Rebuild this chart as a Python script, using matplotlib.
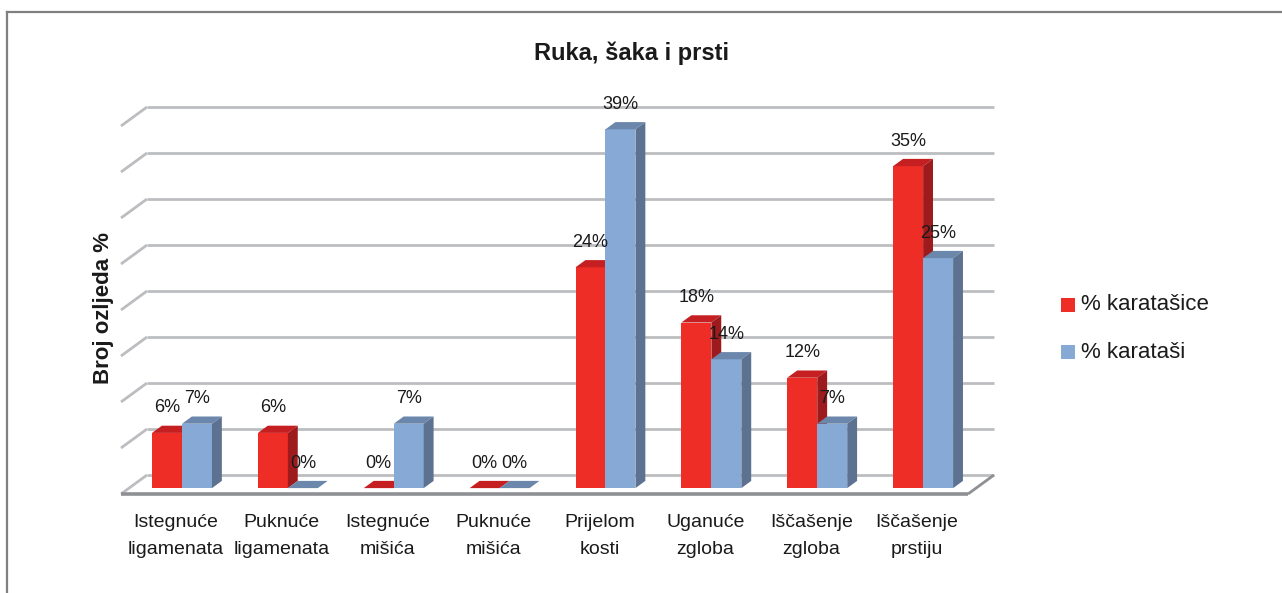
import matplotlib
matplotlib.use('Agg')
import matplotlib.pyplot as plt
from matplotlib import font_manager as fm
from matplotlib.patches import Polygon, Rectangle
from matplotlib.lines import Line2D
from matplotlib.transforms import ScaledTranslation, IdentityTransform

# data
categories = ['Istegnuće\nligamenata', 'Puknuće\nligamenata', 'Istegnuće\nmišića',
              'Puknuće\nmišića', 'Prijelom\nkosti', 'Uganuće\nzgloba',
              'Iščašenje\nzgloba', 'Iščašenje\nprstiju']
karatasice = [6, 6, 0, 0, 24, 18, 12, 35]
karatasi = [7, 0, 7, 0, 39, 14, 7, 25]
series_names = ['% karatašice', '% karataši']
y_ticks = list(range(0, 45, 5))

RED = ('#EE2D27', '#C51F21', '#9D1B1D')    # front, top, side
BLUE = ('#86A9D5', '#6C87AC', '#5D7290')
GRID = '#BBBDC0'
FLOOR = '#8E9093'

names = {f.name for f in fm.fontManager.ttflist}
if 'Liberation Sans Narrow' in names:
    NARROW, cat_fs, leg_fs = 'Liberation Sans Narrow', 16, 19
else:
    NARROW, cat_fs, leg_fs = 'Liberation Sans', 14, 16
plt.rcParams['font.family'] = ['Liberation Sans', 'DejaVu Sans']

W, H, DPI = 1282, 593, 100
fig = plt.figure(figsize=(W / DPI, H / DPI), dpi=DPI)
ax = fig.add_axes([147 / W, 118 / H, 847 / W, 368 / H])
ax.set_xlim(0, len(categories))
ax.set_ylim(0, 40)
ax.axis('off')

# depth vector (back wall -> front edge of floor), in pixels
DX, DY = -26, -19
F_BACK, F_FRONT = 0.31, 0.69


def shift(px, py):
    return ScaledTranslation(px / DPI, py / DPI, fig.dpi_scale_trans)


def disp(x, y, f):
    px, py = ax.transData.transform((x, y))
    return (px + f * DX, py + f * DY)


def seg(p, q, color, lw, z=1):
    ax.add_line(Line2D([p[0], q[0]], [p[1], q[1]], color=color, lw=lw,
                       transform=IdentityTransform(), clip_on=False, zorder=z,
                       solid_capstyle='butt'))


n = len(categories)
for v in y_ticks:
    seg(disp(0, v, 0), disp(n, v, 0), GRID, 2)
    seg(disp(0, v, 0), disp(0, v, 1), GRID, 2)
seg(disp(0, 0, 1), disp(n, 0, 1), FLOOR, 2.6, 2)
seg(disp(n, 0, 0), disp(n, 0, 1), FLOOR, 2, 2)

bw = 0.283
front_tr = ax.transData + shift(F_FRONT * DX, F_FRONT * DY)
label_tr = ax.transData + shift(F_FRONT * DX, F_FRONT * DY + 25)

for i in range(n):
    for vals, cols, off in ((karatasice, RED, -1), (karatasi, BLUE, 0)):
        v = vals[i]
        x0 = i + 0.5 + off * bw
        x1 = x0 + bw
        ax.bar(x0, v, width=bw, align='edge', color=cols[0], transform=front_tr,
               zorder=5, clip_on=False, linewidth=0)
        top = [disp(x0, v, F_FRONT), disp(x1, v, F_FRONT),
               disp(x1, v, F_BACK), disp(x0, v, F_BACK)]
        ax.add_patch(Polygon(top, closed=True, facecolor=cols[1], edgecolor='none',
                             transform=IdentityTransform(), clip_on=False, zorder=5))
        if v > 0:
            side = [disp(x1, 0, F_FRONT), disp(x1, v, F_FRONT),
                    disp(x1, v, F_BACK), disp(x1, 0, F_BACK)]
            ax.add_patch(Polygon(side, closed=True, facecolor=cols[2], edgecolor='none',
                                 transform=IdentityTransform(), clip_on=False, zorder=5))
        ax.text(x0 + bw / 2, v, f'{v}%', transform=label_tr, ha='center', va='center',
                fontsize=13, color='#1a1a1a', zorder=10)

cat_tr = ax.transData + shift(DX + 2, DY - 20)
for i, c in enumerate(categories):
    ax.text(i + 0.5, 0, c, transform=cat_tr, ha='center', va='top',
            fontsize=cat_fs, family=NARROW, linespacing=1.8, color='#1a1a1a')

fig.text(632 / W, 1 - 53 / H, 'Ruka, šaka i prsti', ha='center', va='center',
         fontsize=17, fontweight='bold', color='#1a1a1a')
fig.text(103 / W, 1 - 308 / H, 'Broj ozljeda %', ha='center', va='center',
         rotation=90, fontsize=16, fontweight='bold', color='#1a1a1a')

# legend
for k, (name, cols) in enumerate(zip(series_names, (RED, BLUE))):
    yc = 305 + 47 * k
    fig.add_artist(Rectangle((1061 / W, 1 - (yc + 7) / H), 14 / W, 14 / H,
                             transform=fig.transFigure, facecolor=cols[0],
                             edgecolor='none'))
    fig.text(1081 / W, 1 - yc / H, name, ha='left', va='center',
             fontsize=leg_fs, family=NARROW, color='#1a1a1a')

# outer frame
fig.add_artist(Line2D([7 / W, 7 / W], [0, 1 - 12 / H], color='#808080', lw=1.6,
                      transform=fig.transFigure))
fig.add_artist(Line2D([7 / W, 1], [1 - 12 / H, 1 - 12 / H], color='#808080', lw=1.6,
                      transform=fig.transFigure))

fig.savefig('out.png', dpi=DPI)
